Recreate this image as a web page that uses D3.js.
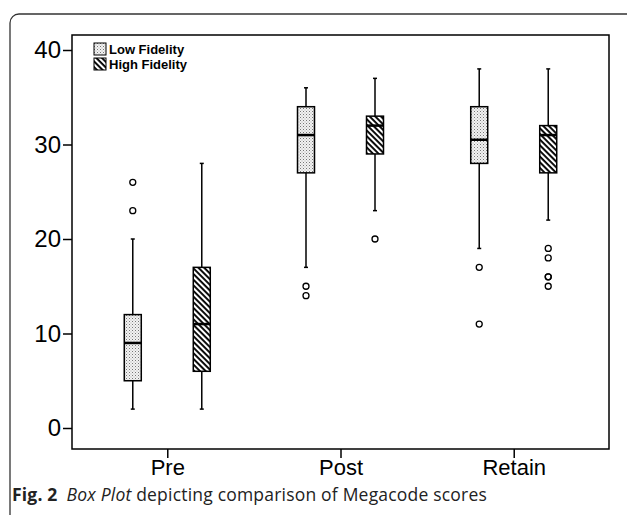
<!DOCTYPE html>
<html>
<head>
<meta charset="utf-8">
<script src="https://cdn.jsdelivr.net/npm/d3@7"></script>
<style>
  html, body { margin: 0; padding: 0; background: #fff; }
  svg { display: block; }
</style>
</head>
<body>
<svg id="chart" width="627" height="515"></svg>
<script>
const categories = ["Pre", "Post", "Retain"]
const groups = ["Low Fidelity", "High Fidelity"]
const yTicks = [0, 10, 20, 30, 40]

// five-number summaries, one per category
const lowStats = [
  { min: 2, q1: 5, median: 9, q3: 12, max: 20 },
  { min: 17, q1: 27, median: 31, q3: 34, max: 36 },
  { min: 19, q1: 28, median: 30.5, q3: 34, max: 38 }
]
const highStats = [
  { min: 2, q1: 6, median: 11, q3: 17, max: 28 },
  { min: 23, q1: 29, median: 32, q3: 33, max: 37 },
  { min: 22, q1: 27, median: 31, q3: 32, max: 38 }
]
const lowOutliers = [[26, 23], [15, 14], [17, 11]]
const highOutliers = [[], [20], [19, 18, 16, 16, 15]]

const svg = d3.select("#chart")
const frame = { left: 72, right: 609, top: 35, bottom: 449 }
const axisFont = "Liberation Sans, Arial, sans-serif"

// outer figure border (rounded top-left corner, runs off the page)
svg.append("rect")
  .attr("x", 10).attr("y", 14)
  .attr("width", 700).attr("height", 600)
  .attr("rx", 9)
  .attr("fill", "none")
  .attr("stroke", "#333")
  .attr("stroke-width", 1.3)

const defs = svg.append("defs")
const dots = defs.append("pattern")
  .attr("id", "dots")
  .attr("patternUnits", "userSpaceOnUse")
  .attr("width", 3).attr("height", 3)
dots.append("rect").attr("width", 3).attr("height", 3).attr("fill", "#f2f2f2")
dots.append("rect").attr("x", 0).attr("y", 0).attr("width", 1).attr("height", 1).attr("fill", "#777")
dots.append("rect").attr("x", 1.5).attr("y", 1.5).attr("width", 1).attr("height", 1).attr("fill", "#aaa")

// "\\\" hatching, top-left to bottom-right
const hatch = defs.append("pattern")
  .attr("id", "hatch")
  .attr("patternUnits", "userSpaceOnUse")
  .attr("width", 4).attr("height", 4)
  .attr("patternTransform", "rotate(45)")
hatch.append("rect").attr("width", 4).attr("height", 4).attr("fill", "#fff")
hatch.append("rect").attr("x", 0).attr("y", 0).attr("width", 4).attr("height", 1.9).attr("fill", "#000")

const fills = ["url(#dots)", "url(#hatch)"]

const y = d3.scaleLinear().domain([0, 40]).range([428, 50])
const x = d3.scalePoint().domain(categories).range([frame.left, frame.right]).padding(0.55)
const xSub = d3.scalePoint().domain(groups).range([-34.5, 34.5])
const boxWidth = 17

// plot frame
svg.append("rect")
  .attr("x", frame.left).attr("y", frame.top)
  .attr("width", frame.right - frame.left)
  .attr("height", frame.bottom - frame.top)
  .attr("fill", "none")
  .attr("stroke", "#000")
  .attr("stroke-width", 1.5)

// y axis
const yAxis = svg.append("g")
  .attr("transform", `translate(${frame.left},0)`)
  .call(d3.axisLeft(y).tickValues(yTicks).tickSize(9).tickPadding(2))
yAxis.select(".domain").remove()
yAxis.selectAll("line").attr("stroke", "#000").attr("stroke-width", 1.5)
yAxis.selectAll("text")
  .attr("font-family", axisFont)
  .attr("font-size", 24)
  .attr("fill", "#000")

// x axis
const xAxis = svg.append("g")
  .attr("transform", `translate(0,${frame.bottom})`)
  .call(d3.axisBottom(x).tickSize(9).tickPadding(1))
xAxis.select(".domain").remove()
xAxis.selectAll("line").attr("stroke", "#000").attr("stroke-width", 1.5)
xAxis.selectAll("text")
  .attr("font-family", axisFont)
  .attr("font-size", 22)
  .attr("fill", "#000")

const series = [
  { name: groups[0], stats: lowStats, outliers: lowOutliers, fill: fills[0] },
  { name: groups[1], stats: highStats, outliers: highOutliers, fill: fills[1] }
]

series.forEach(s => {
  const g = svg.append("g")
  const items = categories.map((c, i) => ({ cat: c, ...s.stats[i], out: s.outliers[i] }))
  const cx = d => x(d.cat) + xSub(s.name)

  // whiskers
  g.selectAll(".whisker")
    .data(items)
    .enter()
    .append("line")
    .attr("x1", cx).attr("x2", cx)
    .attr("y1", d => y(d.min)).attr("y2", d => y(d.max))
    .attr("stroke", "#000")
    .attr("stroke-width", 1.5)

  ;["min", "max"].forEach(k => {
    g.selectAll(".cap-" + k)
      .data(items)
      .enter()
      .append("line")
      .attr("x1", d => cx(d) - 2).attr("x2", d => cx(d) + 2)
      .attr("y1", d => y(d[k])).attr("y2", d => y(d[k]))
      .attr("stroke", "#000")
      .attr("stroke-width", 1.5)
  })

  // boxes
  g.selectAll(".box")
    .data(items)
    .enter()
    .append("rect")
    .attr("x", d => cx(d) - boxWidth / 2)
    .attr("width", boxWidth)
    .attr("y", d => y(d.q3))
    .attr("height", d => y(d.q1) - y(d.q3))
    .attr("fill", s.fill)
    .attr("stroke", "#000")
    .attr("stroke-width", 1.5)

  // medians
  g.selectAll(".median")
    .data(items)
    .enter()
    .append("line")
    .attr("x1", d => cx(d) - boxWidth / 2).attr("x2", d => cx(d) + boxWidth / 2)
    .attr("y1", d => y(d.median)).attr("y2", d => y(d.median))
    .attr("stroke", "#000")
    .attr("stroke-width", 2.5)

  // outliers
  const outs = items.flatMap(d => d.out.map(v => ({ cat: d.cat, v })))
  g.selectAll(".outlier")
    .data(outs)
    .enter()
    .append("circle")
    .attr("cx", cx)
    .attr("cy", d => y(d.v))
    .attr("r", 3)
    .attr("fill", "none")
    .attr("stroke", "#000")
    .attr("stroke-width", 1.3)
})

// legend
const legend = svg.append("g").attr("transform", "translate(94,43)")
groups.forEach((name, i) => {
  legend.append("rect")
    .attr("x", 0).attr("y", i * 15)
    .attr("width", 12).attr("height", 12)
    .attr("fill", fills[i])
    .attr("stroke", "#000")
    .attr("stroke-width", 1)
  legend.append("text")
    .attr("x", 15).attr("y", i * 15 + 11)
    .attr("font-family", axisFont)
    .attr("font-size", 13)
    .attr("font-weight", "bold")
    .attr("fill", "#000")
    .text(name)
})

// caption
const caption = svg.append("text")
  .attr("x", 12).attr("y", 501)
  .attr("font-family", "Open Sans, sans-serif")
  .attr("font-size", 17.5)
  .attr("letter-spacing", 0.2)
  .attr("fill", "#222")
caption.append("tspan").attr("font-weight", "bold").text("Fig. 2")
caption.append("tspan").attr("dx", 9).attr("font-style", "italic").text("Box Plot")
caption.append("tspan").text(" depicting comparison of Megacode scores")
</script>
</body>
</html>
